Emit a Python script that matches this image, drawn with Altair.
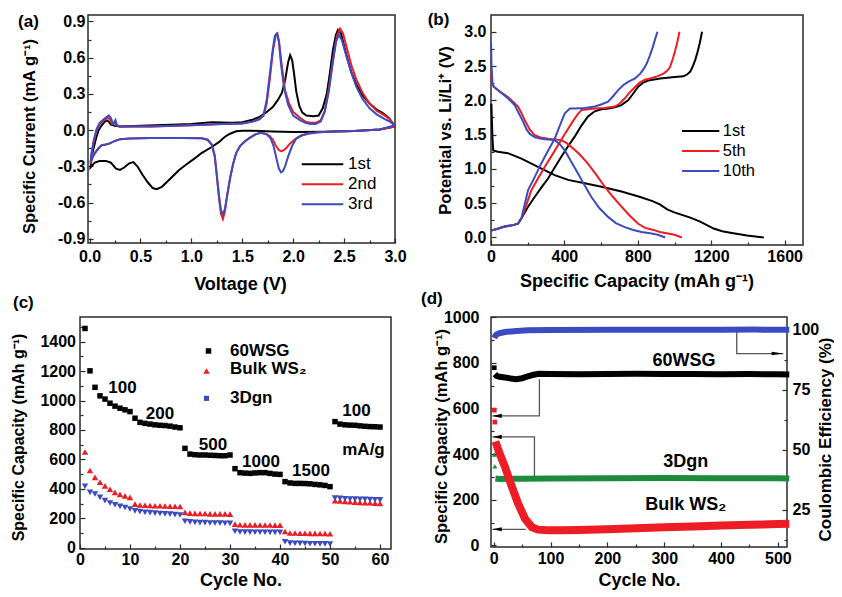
import altair as alt
import pandas as pd

FONT = "Liberation Sans"
K, R, B, G = "#000000", "#ee1c25", "#3b4cc0", "#1e8b3c"
FRAME = "#2b2b2b"
ARROW = "#555555"

# ================= (a) cyclic voltammograms: (voltage V, current mA/g), scan order
a_1st = [(3.0, 0.03), (2.85, 0.005), (2.6, -0.008), (2.3, -0.013), (2.0, -0.015), (1.8, -0.012),
         (1.6, -0.006), (1.5, -0.005), (1.44, -0.01), (1.38, -0.03), (1.33, -0.055), (1.27, -0.1),
         (1.2, -0.14), (1.1, -0.19), (1.04, -0.23), (0.95, -0.285), (0.88, -0.33), (0.82, -0.38),
         (0.76, -0.43), (0.71, -0.47), (0.66, -0.49), (0.62, -0.48), (0.57, -0.43), (0.52, -0.37),
         (0.47, -0.3), (0.43, -0.265), (0.39, -0.275), (0.34, -0.31), (0.3, -0.33), (0.26, -0.32),
         (0.21, -0.27), (0.16, -0.255), (0.1, -0.255), (0.05, -0.27), (0.01, -0.31),
         (0.02, -0.22), (0.04, -0.15), (0.07, -0.05), (0.09, 0.0), (0.12, 0.04), (0.15, 0.07),
         (0.17, 0.08), (0.19, 0.07), (0.21, 0.045), (0.25, 0.035), (0.3, 0.03), (0.5, 0.035),
         (0.8, 0.045), (1.0, 0.05), (1.2, 0.065), (1.4, 0.06), (1.5, 0.065), (1.6, 0.085),
         (1.67, 0.11), (1.74, 0.15), (1.8, 0.19), (1.85, 0.25), (1.89, 0.31), (1.92, 0.41),
         (1.95, 0.56), (1.97, 0.62), (1.99, 0.58), (2.01, 0.46), (2.03, 0.32), (2.06, 0.2),
         (2.09, 0.145), (2.13, 0.12), (2.2, 0.115), (2.25, 0.12), (2.29, 0.18), (2.33, 0.3),
         (2.36, 0.47), (2.39, 0.66), (2.42, 0.79), (2.44, 0.83), (2.47, 0.8), (2.52, 0.63),
         (2.57, 0.48), (2.62, 0.38), (2.68, 0.29), (2.75, 0.22), (2.82, 0.17), (2.88, 0.14),
         (2.94, 0.1), (3.0, 0.03)]
a_2nd = [(3.0, 0.03), (2.85, 0.005), (2.6, -0.008), (2.4, -0.012), (2.25, -0.018), (2.15, -0.028),
         (2.08, -0.045), (2.02, -0.075), (1.97, -0.11), (1.93, -0.15), (1.9, -0.17), (1.88, -0.175),
         (1.86, -0.165), (1.83, -0.13), (1.8, -0.08), (1.77, -0.05), (1.73, -0.03), (1.68, -0.022),
         (1.63, -0.035), (1.58, -0.06), (1.53, -0.09), (1.48, -0.13), (1.44, -0.19), (1.41, -0.28),
         (1.38, -0.4), (1.35, -0.55), (1.33, -0.67), (1.31, -0.735), (1.29, -0.69), (1.27, -0.55),
         (1.25, -0.38), (1.23, -0.22), (1.2, -0.12), (1.16, -0.08), (1.1, -0.068), (0.9, -0.065),
         (0.6, -0.065), (0.4, -0.07), (0.3, -0.075), (0.25, -0.09), (0.2, -0.11), (0.16, -0.12),
         (0.12, -0.125), (0.1, -0.14), (0.07, -0.17), (0.04, -0.21), (0.02, -0.25), (0.01, -0.28),
         (0.02, -0.2), (0.04, -0.1), (0.07, 0.0), (0.1, 0.05), (0.14, 0.08), (0.18, 0.1),
         (0.2, 0.09), (0.22, 0.05), (0.24, 0.06), (0.25, 0.075), (0.26, 0.04), (0.3, 0.03),
         (0.6, 0.03), (1.0, 0.04), (1.3, 0.05), (1.5, 0.055), (1.6, 0.07), (1.67, 0.09),
         (1.71, 0.12), (1.74, 0.22), (1.77, 0.42), (1.8, 0.65), (1.83, 0.79), (1.845, 0.8),
         (1.86, 0.74), (1.89, 0.52), (1.92, 0.33), (1.96, 0.22), (2.0, 0.15), (2.07, 0.1),
         (2.12, 0.07), (2.17, 0.06), (2.22, 0.06), (2.27, 0.08), (2.31, 0.16), (2.35, 0.34),
         (2.39, 0.58), (2.43, 0.78), (2.46, 0.84), (2.49, 0.8), (2.53, 0.67), (2.57, 0.54),
         (2.62, 0.42), (2.68, 0.31), (2.75, 0.22), (2.82, 0.16), (2.9, 0.12), (2.95, 0.09),
         (3.0, 0.03)]
a_3rd = [(3.0, 0.04), (2.85, 0.005), (2.6, -0.008), (2.4, -0.012), (2.25, -0.018), (2.15, -0.028),
         (2.08, -0.045), (2.03, -0.07), (1.99, -0.13), (1.95, -0.22), (1.92, -0.3), (1.9, -0.34),
         (1.88, -0.35), (1.86, -0.32), (1.84, -0.25), (1.81, -0.14), (1.78, -0.07), (1.74, -0.035),
         (1.68, -0.022), (1.63, -0.035), (1.58, -0.06), (1.53, -0.09), (1.48, -0.13), (1.44, -0.19),
         (1.41, -0.28), (1.38, -0.4), (1.35, -0.55), (1.33, -0.65), (1.31, -0.7), (1.29, -0.66),
         (1.27, -0.53), (1.25, -0.37), (1.23, -0.21), (1.2, -0.12), (1.16, -0.08), (1.1, -0.068),
         (0.9, -0.065), (0.6, -0.065), (0.4, -0.07), (0.3, -0.075), (0.25, -0.09), (0.2, -0.11),
         (0.16, -0.12), (0.12, -0.125), (0.1, -0.14), (0.07, -0.17), (0.04, -0.2), (0.02, -0.24),
         (0.01, -0.27), (0.02, -0.19), (0.04, -0.09), (0.07, 0.01), (0.1, 0.06), (0.14, 0.09),
         (0.17, 0.11), (0.19, 0.12), (0.21, 0.1), (0.23, 0.05), (0.245, 0.06), (0.255, 0.08),
         (0.27, 0.04), (0.3, 0.03), (0.6, 0.03), (1.0, 0.04), (1.3, 0.05), (1.5, 0.055),
         (1.6, 0.07), (1.67, 0.09), (1.71, 0.13), (1.74, 0.25), (1.77, 0.46), (1.8, 0.67),
         (1.82, 0.78), (1.84, 0.8), (1.86, 0.73), (1.88, 0.55), (1.91, 0.35), (1.95, 0.21),
         (2.0, 0.12), (2.07, 0.08), (2.12, 0.06), (2.17, 0.05), (2.22, 0.05), (2.27, 0.07),
         (2.31, 0.15), (2.35, 0.32), (2.39, 0.56), (2.42, 0.73), (2.45, 0.79), (2.48, 0.74),
         (2.52, 0.62), (2.57, 0.48), (2.62, 0.36), (2.68, 0.26), (2.75, 0.18), (2.82, 0.13),
         (2.9, 0.09), (2.95, 0.07), (3.0, 0.04)]
a_names = ["1st", "2nd", "3rd"]
a_leg_y = [-0.283, -0.449, -0.615]
a_leg_x1, a_leg_x2, a_leg_tx = 2.084, 2.492, 2.539
a_tag = ("(a)", -0.702, 0.854)
a_xlab = [0, 0.5, 1.0, 1.5, 2.0, 2.5, 3.0]
a_ylab = [-0.9, -0.6, -0.3, 0.0, 0.3, 0.6, 0.9]
a_xticks = [0, 0.25, 0.5, 0.75, 1.0, 1.25, 1.5, 1.75, 2.0, 2.25, 2.5, 2.75, 3.0]
a_yticks = [-0.9, -0.75, -0.6, -0.45, -0.3, -0.15, 0.0, 0.15, 0.3, 0.45, 0.6, 0.75, 0.9]

# ================= (b) charge/discharge profiles: (capacity mAh/g, potential V)
b_1st_dis = [(2, 1.95), (5, 1.7), (8, 1.45), (12, 1.27), (37, 1.25), (92, 1.23), (166, 1.15),
             (256, 1.03), (347, 0.91), (420, 0.84), (511, 0.79), (602, 0.74), (711, 0.67),
             (813, 0.59), (880, 0.53), (922, 0.48), (960, 0.41), (995, 0.37), (1040, 0.33),
             (1086, 0.29), (1140, 0.23), (1213, 0.13), (1260, 0.09), (1304, 0.07), (1395, 0.03),
             (1486, 0.0)]
b_1st_chg = [(0, 0.1), (40, 0.13), (75, 0.16), (120, 0.18), (147, 0.2), (166, 0.28), (200, 0.44),
             (238, 0.59), (275, 0.73), (311, 0.86), (347, 1.02), (384, 1.18), (420, 1.33),
             (456, 1.47), (490, 1.62), (527, 1.76), (565, 1.84), (602, 1.87), (640, 1.88),
             (675, 1.9), (710, 1.93), (747, 2.0), (775, 2.1), (802, 2.2), (830, 2.26), (856, 2.29),
             (922, 2.32), (1000, 2.34), (1049, 2.35), (1070, 2.38), (1086, 2.42), (1100, 2.5),
             (1113, 2.59), (1125, 2.7), (1137, 2.83), (1150, 3.0)]
b_5th_dis = [(0, 2.4), (5, 2.25), (15, 2.2), (37, 2.15), (92, 2.05), (120, 1.98), (147, 1.91),
             (165, 1.82), (184, 1.71), (210, 1.58), (238, 1.49), (270, 1.46), (311, 1.44),
             (350, 1.43), (384, 1.42), (410, 1.38), (438, 1.32), (480, 1.22), (527, 1.08),
             (575, 0.91), (620, 0.74), (665, 0.59), (711, 0.45), (755, 0.32), (802, 0.2),
             (840, 0.14), (885, 0.11), (920, 0.08), (958, 0.06), (1000, 0.04), (1040, 0.0)]
b_5th_chg = [(0, 0.1), (40, 0.13), (75, 0.16), (120, 0.18), (147, 0.2), (166, 0.28), (193, 0.48),
             (220, 0.69), (256, 0.86), (293, 1.03), (330, 1.19), (366, 1.35), (402, 1.51),
             (438, 1.66), (470, 1.79), (493, 1.86), (530, 1.87), (566, 1.88), (620, 1.89),
             (675, 1.91), (700, 1.95), (729, 2.03), (757, 2.12), (784, 2.19), (810, 2.26),
             (838, 2.3), (867, 2.32), (905, 2.35), (940, 2.39), (960, 2.43), (976, 2.49),
             (990, 2.6), (1004, 2.73), (1016, 2.86), (1027, 3.0)]
b_10th_dis = [(0, 2.85), (3, 2.5), (8, 2.25), (15, 2.2), (37, 2.15), (92, 2.03), (129, 1.93),
              (150, 1.82), (175, 1.69), (193, 1.58), (211, 1.51), (240, 1.46), (274, 1.44),
              (310, 1.43), (347, 1.42), (375, 1.36), (402, 1.27), (438, 1.1), (475, 0.93),
              (510, 0.76), (547, 0.59), (590, 0.43), (638, 0.3), (680, 0.21), (729, 0.15),
              (775, 0.11), (820, 0.08), (867, 0.06), (910, 0.04), (949, 0.0)]
b_10th_chg = [(0, 0.1), (40, 0.13), (75, 0.16), (120, 0.18), (147, 0.2), (166, 0.28), (185, 0.5),
              (202, 0.69), (238, 0.88), (274, 1.08), (310, 1.26), (347, 1.44), (375, 1.63),
              (402, 1.81), (430, 1.88), (456, 1.88), (510, 1.89), (566, 1.91), (600, 1.94),
              (638, 1.98), (665, 2.06), (693, 2.15), (720, 2.22), (747, 2.27), (785, 2.32),
              (813, 2.39), (835, 2.47), (849, 2.54), (865, 2.65), (882, 2.78), (895, 2.9),
              (907, 3.0)]
b_names = ["1st", "5th", "10th"]
b_leg_y = [1.553, 1.261, 0.969]
b_leg_x1, b_leg_x2, b_leg_tx = 1041, 1244, 1263
b_tag = ("(b)", -345, 3.092)
b_xlab = [0, 400, 800, 1200, 1600]
b_ylab = [0.0, 0.5, 1.0, 1.5, 2.0, 2.5, 3.0]
b_xticks = [0, 200, 400, 600, 800, 1000, 1200, 1400, 1600]
b_yticks = [0, 0.25, 0.5, 0.75, 1.0, 1.25, 1.5, 1.75, 2.0, 2.25, 2.5, 2.75, 3.0]

# ================= (c) rate capability: capacity (mAh/g) vs cycle 1..60
c_cycle = list(range(1, 61))
c_60wsg = [1490, 1202, 1090, 1032, 1010, 982, 962, 948, 937, 925,
           880, 852, 845, 840, 835, 832, 830, 826, 820, 815,
           675, 636, 632, 630, 630, 628, 627, 625, 625, 630,
           537, 510, 507, 505, 508, 510, 510, 505, 500, 498,
           449, 440, 437, 437, 436, 434, 430, 427, 423, 415,
           857, 840, 835, 833, 832, 828, 825, 823, 822, 820]
c_bulk = [650, 525, 478, 445, 420, 397, 376, 362, 352, 342,
          296, 290, 288, 287, 285, 285, 283, 282, 282, 280,
          240, 235, 233, 232, 232, 230, 230, 230, 230, 228,
          160, 156, 155, 155, 155, 154, 154, 154, 153, 153,
          110, 100, 100, 98, 98, 97, 97, 96, 96, 95,
          320, 318, 315, 312, 310, 308, 305, 305, 303, 300]
c_3dgn = [418, 376, 365, 342, 320, 304, 292, 281, 273, 263,
          250, 245, 240, 238, 235, 232, 230, 228, 225, 222,
          180, 175, 172, 170, 170, 168, 168, 167, 166, 165,
          112, 107, 106, 106, 105, 105, 105, 104, 104, 104,
          40, 31, 30, 29, 28, 27, 27, 26, 26, 25,
          337, 335, 333, 331, 330, 329, 328, 327, 326, 325]
c_names = ["60WSG", "Bulk WS\u2082", "3Dgn"]
c_leg_mx = [25.7, 25.3, 25.3]
c_leg_my = [1337, 1201, 1015]
c_leg_tx = 30.0
c_leg_ty = [1337, 1212, 1015]
c_rate_text = ["100", "200", "500", "1000", "1500", "100", "mA/g"]
c_rate_x = [8.5, 16.0, 26.6, 36.2, 46.2, 55.3, 56.7]
c_rate_y = [1082, 910, 699, 584, 520, 932, 667]
c_tag = ("(c)", -13.4, 1626)
c_xlab = [0, 10, 20, 30, 40, 50, 60]
c_ylab = [0, 200, 400, 600, 800, 1000, 1200, 1400]
c_xticks = [0, 5, 10, 15, 20, 25, 30, 35, 40, 45, 50, 55, 60]
c_yticks = [0, 100, 200, 300, 400, 500, 600, 700, 800, 900, 1000, 1100, 1200, 1300, 1400, 1500]

# ================= (d) long cycling
d_wsg_cyc = [2, 5, 10, 20, 30, 40, 50, 60, 70, 80, 100, 150, 200, 250, 300, 350, 400, 450, 500, 520]
d_wsg_cap = [750, 742, 738, 735, 731, 728, 732, 740, 747, 751, 750, 749, 750, 751, 750, 750, 749, 750, 749, 748]
d_bulk_cyc = [3, 10, 20, 30, 43, 55, 67, 78, 90, 100, 120, 150, 200, 250, 300, 350, 400, 450, 500, 520]
d_bulk_cap = [455, 405, 343, 270, 183, 117, 80, 69, 67, 66, 66, 67, 71, 75, 79, 83, 87, 90, 94, 95]
d_3dgn_cyc = [3, 10, 50, 100, 200, 300, 400, 500, 520]
d_3dgn_cap = [293, 291, 292, 293, 294, 295, 294, 294, 293]
d_ce_cyc = [1, 3, 5, 10, 20, 40, 60, 100, 200, 300, 400, 460, 520]
d_ce_val = [96.5, 97.5, 98.0, 98.5, 99.0, 99.4, 99.7, 99.8, 99.9, 99.9, 99.9, 100.0, 99.9]
d_first_wsg = [(1, 778)]
d_first_bulk = [(1, 592), (2, 540)]
d_first_3dgn = [(1, 398), (2, 346)]
d_text = ["60WSG", "3Dgn", "Bulk WS\u2082"]
d_text_x = [335, 338, 338]
d_text_y = [809, 363, 177]
d_arrows_left = {"60WSG": [(80.4, 728), (80.4, 567), (-2.2, 567)],
                 "3Dgn": [(71.7, 304), (71.7, 475), (-2.2, 475)],
                 "Bulk": [(56.5, 70.5), (-2.2, 70.5)]}
d_heads_left = [(6.0, 567), (6.0, 475), (6.0, 70.5)]
d_arrow_right = [(427.6, 99.0), (427.6, 90.0), (509.5, 90.0)]
d_head_right = [(499.2, 90.0)]
d_tag = ("(d)", -127.9, 1057)
d_xlab = [0, 100, 200, 300, 400, 500]
d_ylab = [0, 200, 400, 600, 800, 1000]
d_rlab = [25, 50, 75, 100]
d_xticks = [0, 50, 100, 150, 200, 250, 300, 350, 400, 450, 500]
d_yticks = [0, 100, 200, 300, 400, 500, 600, 700, 800, 900, 1000]
d_rticks = [12.5, 25, 37.5, 50, 62.5, 75, 87.5, 100]

# ================= helpers
AX = dict(ticks=False, tickSize=0, domain=False, grid=False, labelFlush=False,
          labelOverlap=False, titleBaseline="alphabetic")


def xaxis(values, title, fmt, pad, tx, ty):
    return alt.Axis(orient="bottom", values=values, title=title, format=fmt,
                    labelPadding=pad, titleX=tx, titleY=ty, **AX)


def yaxis(values, title, fmt, pad, tx, orient="left", offset=0, expr=None, ty=None, tsize=16.5):
    kw = dict(AX)
    if expr is not None:
        kw["labelExpr"] = expr
    if ty is not None:
        kw["titleY"] = ty
    return alt.Axis(orient=orient, values=values, title=title, format=fmt, labelPadding=pad,
                    titleX=tx, titleAngle=270, titleFontSize=tsize, offset=offset, **kw)


def tick_axis(orient, offset, values, step):
    test = f"abs(datum.value / {step} - round(datum.value / {step})) < 0.01"
    return alt.Axis(orient=orient, offset=offset, values=values, labels=False, domain=False,
                    grid=False, title=None, ticks=True, tickColor=FRAME, tickWidth=1.2,
                    tickSize={"condition": {"test": test, "value": 5}, "value": 3})


def tick_layer(xs, ys, xmin, ymin, xvals, xstep, yvals, ystep, W, H, left_px=0):
    df = pd.DataFrame({"x": [xmin], "y": [ymin]})
    return alt.Chart(df).mark_point(opacity=0).encode(
        x=alt.X("x:Q", scale=xs, axis=tick_axis("top", -H, xvals, xstep)),
        y=alt.Y("y:Q", scale=ys, axis=tick_axis("right", -(W - left_px), yvals, ystep)),
    )


def tag_layer(tag, xs, ys):
    df = pd.DataFrame({"t": [tag[0]], "x": [tag[1]], "y": [tag[2]]})
    return alt.Chart(df).mark_text(align="left", baseline="alphabetic", font=FONT, fontSize=17,
                                   fontWeight="bold", color="black").encode(
        x=alt.X("x:Q", scale=xs, axis=None), y=alt.Y("y:Q", scale=ys, axis=None), text="t:N")


def pairs_df(pairs, fx="x", fy="y"):
    return pd.DataFrame({fx: [p[0] for p in pairs], fy: [p[1] for p in pairs]})


# ================= panel (a)
WA, HA = 315, 228
xa = alt.Scale(domain=[-0.015, 3.0], range=[8, WA], nice=False, zero=False)
ya = alt.Scale(domain=[-0.935, 0.953], nice=False, zero=False)
ca = alt.Scale(domain=a_names, range=[K, R, B])

rows = []
for name, pts in zip(a_names, [a_1st, a_2nd, a_3rd]):
    for k, (v, i) in enumerate(pts):
        rows.append({"cycle": name, "k": k, "v": v, "i": i})
df_a = pd.DataFrame(rows)

frame_a = alt.Chart(pd.DataFrame({"x1": [-0.015], "x2": [3.0], "y1": [-0.935], "y2": [0.953]})).mark_rect(
    fillOpacity=0, stroke=FRAME, strokeWidth=1.5).encode(
    x=alt.X("x1:Q", scale=xa, axis=None), x2="x2:Q",
    y=alt.Y("y1:Q", scale=ya, axis=None), y2="y2:Q")

lines_a = alt.Chart(df_a).mark_line(strokeWidth=2).encode(
    x=alt.X("v:Q", scale=xa, axis=xaxis(a_xlab, "Voltage (V)", ".1f", 5, 160, 46)),
    y=alt.Y("i:Q", scale=ya, axis=yaxis(a_ylab, "Specific Current (mA g\u207b\u00b9)", ".1f", 3, -53.5,
                                          offset=-8, ty=121,
                                          expr="replace(format(datum.value, '.1f'), '\u2212', '-')")),
    color=alt.Color("cycle:N", scale=ca, legend=None),
    order=alt.Order("k:Q"),
)

leg_a = pd.DataFrame({"cycle": a_names, "y": a_leg_y, "x1": [a_leg_x1] * 3,
                      "x2": [a_leg_x2] * 3, "tx": [a_leg_tx] * 3})
leg_a_rule = alt.Chart(leg_a).mark_rule(strokeWidth=2).encode(
    x=alt.X("x1:Q", scale=xa, axis=None), x2="x2:Q",
    y=alt.Y("y:Q", scale=ya, axis=None),
    color=alt.Color("cycle:N", scale=ca, legend=None))
leg_a_text = alt.Chart(leg_a).mark_text(align="left", baseline="middle", font=FONT, fontSize=17,
                                        color="black").encode(
    x=alt.X("tx:Q", scale=xa, axis=None), y=alt.Y("y:Q", scale=ya, axis=None), text="cycle:N")

ticks_a = tick_layer(xa, ya, 0, 0, a_xticks, 0.5, a_yticks, 0.3, WA, HA, left_px=8)

pa = alt.layer(frame_a, lines_a, leg_a_rule, leg_a_text, ticks_a, tag_layer(a_tag, xa, ya)).resolve_axis(
    x="independent", y="independent").properties(
    width=WA, height=HA, view=alt.ViewBackground(stroke="transparent"))

# ================= panel (b)
WB, HB = 312, 230
xb = alt.Scale(domain=[0, 1700], nice=False, zero=False)
yb = alt.Scale(domain=[-0.11, 3.245], nice=False, zero=False)
cb = alt.Scale(domain=b_names, range=[K, R, B])
rows = []
for name, segs in zip(b_names, [(b_1st_dis, b_1st_chg), (b_5th_dis, b_5th_chg), (b_10th_dis, b_10th_chg)]):
    for sname, pts in zip(["dis", "chg"], segs):
        for k, (q, v) in enumerate(pts):
            rows.append({"cycle": name, "seg": sname, "k": k, "q": q, "v": v})
df_b = pd.DataFrame(rows)

lines_b = alt.Chart(df_b).mark_line(strokeWidth=2).encode(
    x=alt.X("q:Q", scale=xb, axis=xaxis(b_xlab, "Specific Capacity (mAh g\u207b\u00b9)", "d", 3.4, 145.5, 41)),
    y=alt.Y("v:Q", scale=yb, axis=yaxis(b_ylab, "Potential vs. Li/Li\u207a (V)", ".1f", 5, -41)),
    color=alt.Color("cycle:N", scale=cb, legend=None),
    detail="seg:N",
    order=alt.Order("k:Q"),
)
leg_b = pd.DataFrame({"cycle": b_names, "y": b_leg_y, "x1": [b_leg_x1] * 3,
                      "x2": [b_leg_x2] * 3, "tx": [b_leg_tx] * 3})
leg_b_rule = alt.Chart(leg_b).mark_rule(strokeWidth=2).encode(
    x=alt.X("x1:Q", scale=xb, axis=None), x2="x2:Q",
    y=alt.Y("y:Q", scale=yb, axis=None),
    color=alt.Color("cycle:N", scale=cb, legend=None))
leg_b_text = alt.Chart(leg_b).mark_text(align="left", baseline="middle", font=FONT, fontSize=16.5,
                                        color="black").encode(
    x=alt.X("tx:Q", scale=xb, axis=None), y=alt.Y("y:Q", scale=yb, axis=None), text="cycle:N")
ticks_b = tick_layer(xb, yb, 0, 0, b_xticks, 400, b_yticks, 0.5, WB, HB)

pb = alt.layer(lines_b, leg_b_rule, leg_b_text, ticks_b, tag_layer(b_tag, xb, yb)).resolve_axis(
    x="independent", y="independent").properties(width=WB, height=HB)

# ================= panel (c)
WC, HC = 311, 232
xc = alt.Scale(domain=[0, 62.2], nice=False, zero=False)
yc = alt.Scale(domain=[-9, 1568], nice=False, zero=False)
df_c = pd.DataFrame({"cycle": c_cycle, "wsg": c_60wsg, "bulk": c_bulk, "gn": c_3dgn})

pts_wsg = alt.Chart(df_c).mark_point(shape="square", filled=True, size=30, color=K, opacity=1).encode(
    x=alt.X("cycle:Q", scale=xc, axis=xaxis(c_xlab, "Cycle No.", "d", 2.5, 160.5, 36)),
    y=alt.Y("wsg:Q", scale=yc, axis=yaxis(c_ylab, "Specific Capacity (mAh g\u207b\u00b9)", "d", 4.5, -56.5,
                                          ty=120, tsize=16)))
pts_bulk = alt.Chart(df_c).mark_point(shape="triangle-up", filled=True, size=42, color=R, opacity=1).encode(
    x=alt.X("cycle:Q", scale=xc, axis=None), y=alt.Y("bulk:Q", scale=yc, axis=None))
pts_gn = alt.Chart(df_c).mark_point(shape="triangle-down", filled=True, size=42, color=B, opacity=1).encode(
    x=alt.X("cycle:Q", scale=xc, axis=None), y=alt.Y("gn:Q", scale=yc, axis=None))

leg_c = pd.DataFrame({"name": c_names, "mx": c_leg_mx, "my": c_leg_my,
                      "tx": [c_leg_tx] * 3, "ty": c_leg_ty})
leg_c_shapes = ["square", "triangle-up", "square"]
leg_c_colors = [K, R, B]
leg_c_sizes = [30, 42, 26]
leg_c_marks = []
for j in range(3):
    leg_c_marks.append(
        alt.Chart(leg_c.iloc[[j]]).mark_point(shape=leg_c_shapes[j], filled=True, size=leg_c_sizes[j],
                                              color=leg_c_colors[j], opacity=1).encode(
            x=alt.X("mx:Q", scale=xc, axis=None), y=alt.Y("my:Q", scale=yc, axis=None)))
leg_c_text = alt.Chart(leg_c).mark_text(align="left", baseline="middle", font=FONT, fontSize=17,
                                        fontWeight="bold", color="black").encode(
    x=alt.X("tx:Q", scale=xc, axis=None), y=alt.Y("ty:Q", scale=yc, axis=None), text="name:N")
rate_c = alt.Chart(pd.DataFrame({"t": c_rate_text, "x": c_rate_x, "y": c_rate_y})).mark_text(
    align="center", baseline="middle", font=FONT, fontSize=17, fontWeight="bold", color="black").encode(
    x=alt.X("x:Q", scale=xc, axis=None), y=alt.Y("y:Q", scale=yc, axis=None), text="t:N")
ticks_c = tick_layer(xc, yc, 0, 0, c_xticks, 10, c_yticks, 200, WC, HC)

pc = alt.layer(pts_wsg, pts_bulk, pts_gn, *leg_c_marks, leg_c_text, rate_c, ticks_c,
               tag_layer(c_tag, xc, yc)).resolve_axis(
    x="independent", y="independent").properties(width=WC, height=HC)

# ================= panel (d)
WD, HD = 296, 230
xd = alt.Scale(domain=[-4.75, 516], nice=False, zero=False)
yd = alt.Scale(domain=[-7, 1000], nice=False, zero=False)
yr = alt.Scale(domain=[9.4, 105.25], nice=False, zero=False)


def dline(cyc, vals, color, width, ys, xax=None, yax=None):
    df = pd.DataFrame({"c": cyc, "v": vals})
    return alt.Chart(df).mark_line(strokeWidth=width, color=color, strokeCap="butt").encode(
        x=alt.X("c:Q", scale=xd, axis=xax), y=alt.Y("v:Q", scale=ys, axis=yax))


def dpts(pairs, shape, color, size):
    return alt.Chart(pairs_df(pairs, "c", "v")).mark_point(shape=shape, filled=True, size=size,
                                                         color=color, opacity=1).encode(
        x=alt.X("c:Q", scale=xd, axis=None), y=alt.Y("v:Q", scale=yd, axis=None))


line_gn = dline(d_3dgn_cyc, d_3dgn_cap, G, 6, yd,
                xax=xaxis(d_xlab, "Cycle No.", "d", 3.7, 148, 38),
                yax=yaxis(d_ylab, "Specific Capacity (mAh g\u207b\u00b9)", "d", 12, -45, ty=119))
line_bulk = dline(d_bulk_cyc, d_bulk_cap, R, 8, yd)
line_wsg = dline(d_wsg_cyc, d_wsg_cap, K, 6, yd)
line_ce = dline(d_ce_cyc, d_ce_val, B, 6, yr,
                yax=yaxis(d_rlab, "Coulombic Efficiency (%)", "d", 5, 43, orient="right", ty=122,
                          tsize=17))
first_wsg = dpts(d_first_wsg, "square", K, 22)
first_bulk = dpts(d_first_bulk, "square", R, 22)
first_gn = dpts(d_first_3dgn, "triangle-up", G, 26)

arows = []
for name, pts in d_arrows_left.items():
    for k, (c, v) in enumerate(pts):
        arows.append({"a": name, "k": k, "c": c, "v": v})
arr_left = alt.Chart(pd.DataFrame(arows)).mark_line(color=ARROW, strokeWidth=1.3).encode(
    x=alt.X("c:Q", scale=xd, axis=None), y=alt.Y("v:Q", scale=yd, axis=None),
    detail="a:N", order=alt.Order("k:Q"))
heads_left = alt.Chart(pairs_df(d_heads_left, "c", "v")).mark_point(
    shape="M-1,0L1,-0.45L1,0.45Z", filled=True, size=85, color="black", opacity=1).encode(
    x=alt.X("c:Q", scale=xd, axis=None), y=alt.Y("v:Q", scale=yd, axis=None))
arr_right = alt.Chart(pairs_df(d_arrow_right, "c", "v").assign(k=[0, 1, 2])).mark_line(
    color=ARROW, strokeWidth=1.3).encode(
    x=alt.X("c:Q", scale=xd, axis=None), y=alt.Y("v:Q", scale=yr, axis=None), order=alt.Order("k:Q"))
head_right = alt.Chart(pairs_df(d_head_right, "c", "v")).mark_point(
    shape="M1,0L-1,-0.3L-1,0.3Z", filled=True, size=135, color="black", opacity=1).encode(
    x=alt.X("c:Q", scale=xd, axis=None), y=alt.Y("v:Q", scale=yr, axis=None))
text_d = alt.Chart(pd.DataFrame({"t": d_text, "x": d_text_x, "y": d_text_y})).mark_text(
    align="center", baseline="middle", font=FONT, fontSize=18, fontWeight="bold", color="black").encode(
    x=alt.X("x:Q", scale=xd, axis=None), y=alt.Y("y:Q", scale=yd, axis=None), text="t:N")
ticks_d = tick_layer(xd, yd, 0, 0, d_xticks, 100, d_yticks, 200, WD, HD)
rticks_d = alt.Chart(pd.DataFrame({"x": [0], "y": [50]})).mark_point(opacity=0).encode(
    x=alt.X("x:Q", scale=xd, axis=None),
    y=alt.Y("y:Q", scale=yr, axis=tick_axis("left", -WD, d_rticks, 25)))

pd_ = alt.layer(line_gn, line_bulk, line_wsg, line_ce, first_wsg, first_bulk, first_gn,
                arr_left, heads_left, arr_right, head_right, text_d, ticks_d, rticks_d,
                tag_layer(d_tag, xd, yd)).resolve_scale(
    y="independent").resolve_axis(x="independent", y="independent").properties(
    width=WD, height=HD)

# ================= assemble
chart = alt.concat(pa, pb, pc, pd_, columns=2, spacing={"row": 72, "column": 96},
                   bounds="flush", align="each").resolve_scale(color="independent").properties(
    padding={"left": 1, "top": 2, "right": 0, "bottom": 0},
    background="white",
).configure_axis(
    labelFont=FONT, labelFontSize=16, labelFontWeight="bold", labelColor="black",
    titleFont=FONT, titleFontSize=18, titleFontWeight="bold", titleColor="black",
).configure_view(stroke=FRAME, strokeWidth=1.5)

chart.save("out.html", embed_options={"renderer": "svg", "actions": False})
